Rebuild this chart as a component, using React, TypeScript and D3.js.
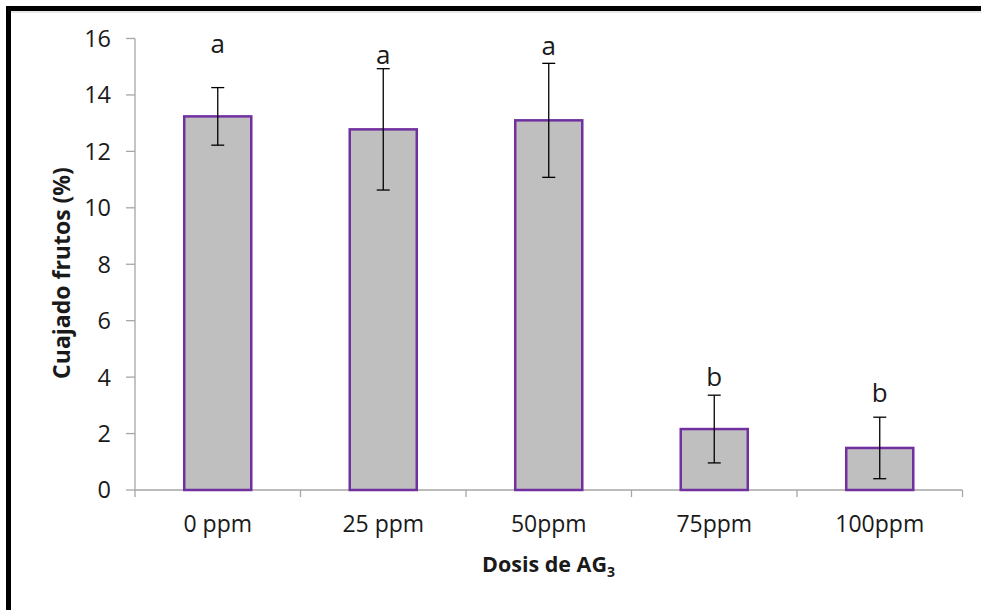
import React from "react";
import * as d3 from "d3";

const categories = ["0 ppm", "25 ppm", "50ppm", "75ppm", "100ppm"];
const values = [13.24, 12.78, 13.1, 2.16, 1.49];
const errors = [1.02, 2.15, 2.02, 1.2, 1.09];
const letters = ["a", "a", "a", "b", "b"];
const letterY = [15.5, 15.1, 15.43, 3.68, 3.12];
const yTicks = [0, 2, 4, 6, 8, 10, 12, 14, 16];

const W = 981;
const H = 610;
const FONT = "'Open Sans', 'DejaVu Sans', sans-serif";

export default function App() {
  const x = d3.scaleBand<string>().domain(categories).range([135, 962.5]).padding(0);
  const y = d3.scaleLinear().domain([0, 16]).range([490, 38.5]);
  const bw = x.bandwidth() * 0.405;
  const axisColor = "#a6a6a6";
  const boundaries = categories.map((c) => x(c) as number).concat([x.range()[1]]);

  return (
    <svg width={W} height={H} style={{ position: "absolute", left: 0, top: 0, background: "#fff" }}>
      <rect x={0} y={0} width={W} height={H} fill="#fff" />
      <line x1={6} y1={12} x2={W} y2={12} stroke="#d0d0d0" strokeWidth={1} />
      <rect x={8.5} y={8.5} width={1100} height={800} fill="none" stroke="#000" strokeWidth={5} />

      {/* y axis */}
      <line x1={135} y1={y(16)} x2={135} y2={y(0)} stroke={axisColor} strokeWidth={1.3} />
      {yTicks.map((t) => (
        <g key={t}>
          <line x1={126} x2={135} y1={y(t)} y2={y(t)} stroke={axisColor} strokeWidth={1.3} />
          <text x={111} y={y(t)} dy="0.36em" textAnchor="end" fontFamily={FONT} fontSize={23.5} fill="#1a1a1a">
            {t}
          </text>
        </g>
      ))}

      {/* x axis */}
      <line x1={135} x2={x.range()[1]} y1={y(0)} y2={y(0)} stroke={axisColor} strokeWidth={1.3} />
      {boundaries.map((b, i) => (
        <line key={i} x1={b} x2={b} y1={y(0)} y2={y(0) + 7} stroke={axisColor} strokeWidth={1.3} />
      ))}

      {/* bars */}
      {categories.map((c, i) => {
        const cx = (x(c) as number) + x.bandwidth() / 2;
        return (
          <g key={c}>
            <rect
              x={cx - bw / 2}
              y={y(values[i])}
              width={bw}
              height={y(0) - y(values[i])}
              fill="#bfbfbf"
              stroke="#7030a0"
              strokeWidth={2.5}
            />
            <line x1={cx} x2={cx} y1={y(values[i] + errors[i])} y2={y(values[i] - errors[i])} stroke="#000" strokeWidth={1.3} />
            <line x1={cx - 6.5} x2={cx + 6.5} y1={y(values[i] + errors[i])} y2={y(values[i] + errors[i])} stroke="#000" strokeWidth={1.3} />
            <line x1={cx - 6.5} x2={cx + 6.5} y1={y(values[i] - errors[i])} y2={y(values[i] - errors[i])} stroke="#000" strokeWidth={1.3} />
            <text x={cx} y={y(letterY[i])} textAnchor="middle" fontFamily={FONT} fontSize={26} fill="#1a1a1a">
              {letters[i]}
            </text>
            <text x={cx} y={532} textAnchor="middle" fontFamily={FONT} fontSize={23} fill="#1a1a1a">
              {c}
            </text>
          </g>
        );
      })}

      {/* axis titles */}
      <text x={548.5} y={571.5} textAnchor="middle" fontFamily={FONT} fontSize={21.5} fontWeight="bold" fill="#1a1a1a">
        Dosis de AG
        <tspan fontSize={14} dy={5}>3</tspan>
      </text>
      <text
        transform={`translate(70, 273) rotate(-90)`}
        textAnchor="middle"
        fontFamily={FONT}
        fontSize={23}
        fontWeight="bold"
        fill="#1a1a1a"
      >
        Cuajado frutos (%)
      </text>
    </svg>
  );
}
